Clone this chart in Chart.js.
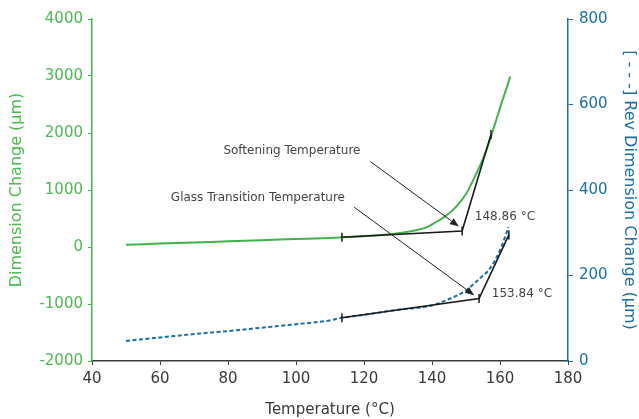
<!DOCTYPE html>
<html>
<head>
<meta charset="utf-8">
<script src="https://cdn.jsdelivr.net/npm/chart.js@4.4.1/dist/chart.umd.min.js"></script>
<style>
  html, body { margin: 0; padding: 0; background: #ffffff; }
  #wrap { width: 639px; height: 419px; }
</style>
</head>
<body>
<div id="wrap"><canvas id="c" width="639" height="419"></canvas></div>
<script>
// ---------- data ----------
const greenTemps  = [50, 60, 70, 80, 90, 100, 110, 113.5, 120, 125, 130, 135, 138, 141, 144, 147, 150, 152, 154, 156, 158, 160, 162, 163];
const greenValues = [40, 60, 80, 100, 120, 140, 160, 170, 190, 210, 240, 290, 335, 430, 545, 700, 930, 1160, 1410, 1700, 2060, 2440, 2800, 2990];

const blueTemps  = [50, 60, 70, 80, 90, 100, 110, 113.5, 120, 130, 140, 145, 150, 154, 157, 160, 162.5];
const blueValues = [47, 55, 63, 70, 78, 86, 95, 101, 108, 120, 130, 145, 165, 193, 216, 259, 313];

// tangent construction lines (onset analysis)
const softTangentTemps  = [113.5, 148.86, 157.35];
const softTangentValues = [170, 280, 1972];
const glassTangentTemps  = [113.5, 153.84, 162.6];
const glassTangentValues = [101, 146, 295];

// axis ticks
const xTicks = [40, 60, 80, 100, 120, 140, 160, 180];
const yTicks = [-2000, -1000, 0, 1000, 2000, 3000, 4000];
const y1Ticks = [0, 200, 400, 600, 800];

// annotation texts (positions in data units of x / left y axis)
const annoLabels = ['Softening Temperature', 'Glass Transition Temperature', '148.86 °C', '153.84 °C'];
const annoLabelX = [98.8, 88.8, 152.6, 157.6];
const annoLabelY = [1695, 863, 534, -815];
const annoAlign  = ['center', 'center', 'left', 'left'];
const arrowFromX = [121.8, 117.1];
const arrowFromY = [1502, 699];
const arrowToX   = [147.9, 152.4];
const arrowToY   = [361, -845];

// ---------- styling ----------
const GREEN = '#3fb54b';
const GREEN_TXT = '#4cba4f';
const BLUE = '#1a6fa9';
const DARK = '#3a3a3a';
const FONT = "'DejaVu Sans', sans-serif";

const toPts = (xs, ys) => xs.map((x, i) => ({x: x, y: ys[i]}));
const plainTick = (v) => String(v);

const annoPlugin = {
  id: 'anno',
  afterDatasetsDraw(chart) {
    const ctx = chart.ctx;
    const xs = chart.scales.x, ys = chart.scales.y;
    ctx.save();
    ctx.strokeStyle = '#222';
    ctx.fillStyle = '#222';
    ctx.lineWidth = 1;
    for (let i = 0; i < arrowFromX.length; i++) {
      const x0 = xs.getPixelForValue(arrowFromX[i]), y0 = ys.getPixelForValue(arrowFromY[i]);
      const x1 = xs.getPixelForValue(arrowToX[i]), y1 = ys.getPixelForValue(arrowToY[i]);
      const a = Math.atan2(y1 - y0, x1 - x0);
      const hl = 9, hw = 3.5;
      const bx = x1 - hl * Math.cos(a), by = y1 - hl * Math.sin(a);
      ctx.beginPath();
      ctx.moveTo(x0, y0);
      ctx.lineTo(bx, by);
      ctx.stroke();
      ctx.beginPath();
      ctx.moveTo(x1, y1);
      ctx.lineTo(bx + hw * Math.sin(a), by - hw * Math.cos(a));
      ctx.lineTo(bx - hw * Math.sin(a), by + hw * Math.cos(a));
      ctx.closePath();
      ctx.fill();
    }
    ctx.fillStyle = '#444';
    ctx.font = "12px " + FONT;
    ctx.textBaseline = 'middle';
    for (let i = 0; i < annoLabels.length; i++) {
      ctx.textAlign = annoAlign[i];
      ctx.fillText(annoLabels[i], xs.getPixelForValue(annoLabelX[i]), ys.getPixelForValue(annoLabelY[i]));
    }
    ctx.restore();
  }
};

new Chart(document.getElementById('c'), {
  type: 'line',
  data: {
    datasets: [
      {
        label: 'Softening tangents',
        data: toPts(softTangentTemps, softTangentValues),
        yAxisID: 'y',
        borderColor: '#1a1a1a',
        borderWidth: 1.6,
        pointStyle: 'line',
        pointRotation: 90,
        pointRadius: 4.5,
        pointBorderColor: '#1a1a1a',
        pointBorderWidth: 1.5,
        order: 0
      },
      {
        label: 'Glass tangents',
        data: toPts(glassTangentTemps, glassTangentValues),
        yAxisID: 'y1',
        borderColor: '#1a1a1a',
        borderWidth: 1.6,
        pointStyle: 'line',
        pointRotation: 90,
        pointRadius: 4.5,
        pointBorderColor: '#1a1a1a',
        pointBorderWidth: 1.5,
        order: 0
      },
      {
        label: 'Dimension Change',
        data: toPts(greenTemps, greenValues),
        yAxisID: 'y',
        borderColor: GREEN,
        borderWidth: 2,
        pointRadius: 0,
        cubicInterpolationMode: 'monotone',
        order: 1
      },
      {
        label: 'Rev Dimension Change',
        data: toPts(blueTemps, blueValues),
        yAxisID: 'y1',
        borderColor: BLUE,
        borderWidth: 2,
        borderDash: [4, 2.5],
        pointRadius: 0,
        cubicInterpolationMode: 'monotone',
        order: 1
      }
    ]
  },
  options: {
    responsive: false,
    animation: false,
    events: [],
    layout: { padding: { top: 19, left: 0, right: 0, bottom: 0 } },
    plugins: { legend: { display: false }, tooltip: { enabled: false } },
    scales: {
      x: {
        type: 'linear',
        min: 40, max: 180,
        afterBuildTicks: (s) => { s.ticks = xTicks.map(v => ({value: v})); },
        afterFit: (s) => { s.height = 58; },
        border: { display: true, color: DARK, width: 1.5 },
        grid: { drawOnChartArea: false, drawTicks: true, tickLength: 4, color: DARK },
        ticks: { color: DARK, font: { family: FONT, size: 15 }, padding: 5, maxRotation: 0, callback: plainTick },
        title: { display: true, text: 'Temperature (°C)', color: DARK, font: { family: FONT, size: 15 }, padding: { top: 0, bottom: 0 } }
      },
      y: {
        position: 'left',
        min: -2000, max: 4000,
        afterBuildTicks: (s) => { s.ticks = yTicks.map(v => ({value: v})); },
        afterFit: (s) => { s.width = 92; },
        border: { display: true, color: GREEN, width: 1.5 },
        grid: { drawOnChartArea: false, drawTicks: true, tickLength: 4, color: GREEN },
        ticks: { color: GREEN_TXT, font: { family: FONT, size: 15 }, padding: 5, callback: plainTick },
        title: { display: true, text: 'Dimension Change (µm)', color: GREEN_TXT, font: { family: FONT, size: 16 }, padding: { top: 7, bottom: 0 } }
      },
      y1: {
        position: 'right',
        min: 0, max: 800,
        afterBuildTicks: (s) => { s.ticks = y1Ticks.map(v => ({value: v})); },
        afterFit: (s) => { s.width = 71; },
        border: { display: true, color: BLUE, width: 1.5 },
        grid: { drawOnChartArea: false, drawTicks: true, tickLength: 5, color: BLUE },
        ticks: { color: BLUE, font: { family: FONT, size: 15 }, padding: 6, callback: plainTick },
        title: { display: true, text: '[ - - -] Rev Dimension Change (µm)', color: BLUE, font: { family: FONT, size: 16 }, padding: { top: 0, bottom: 0 } }
      }
    }
  },
  plugins: [annoPlugin]
});
</script>
</body>
</html>
